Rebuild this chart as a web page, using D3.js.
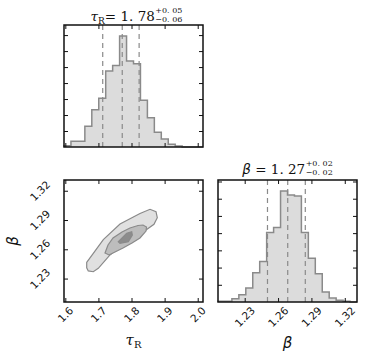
<!DOCTYPE html>
<html>
<head>
<meta charset="utf-8">
<script src="https://cdn.jsdelivr.net/npm/d3@7"></script>
<style>
body { margin: 0; background: #fff; }
text { fill: #111; }
</style>
</head>
<body>
<svg id="chart" width="365" height="361"></svg>
<script>
"use strict"

// axis ranges of the two parameters
const tauDomain = [1.596, 2.016]
const betaDomain = [1.206, 1.331]

// 20-bin histograms spanning the axis ranges
const tauCounts = [4, 17, 17, 62, 112, 146, 228, 245, 333, 258, 250, 140, 88, 44, 24, 8, 3, 0, 0, 0]
const betaCounts = [2, 2, 10, 22, 42, 88, 122, 210, 225, 335, 323, 320, 210, 132, 85, 30, 12, 5, 2, 0]

// 16 / 50 / 84 percent quantiles
const tauQuantiles = [1.713, 1.772, 1.823]
const betaQuantiles = [1.2505, 1.2687, 1.2845]

const tauTicks = [1.6, 1.7, 1.8, 1.9, 2.0]
const betaTicks = [1.23, 1.26, 1.29, 1.32]
const tauCountTicks = [48, 96, 144, 192, 240, 288, 336]
const betaCountTicks = [52, 104, 156, 208, 260, 312, 364]

// joint density contours, [tau, beta]
const contourOuter = [[1.6646, 1.2467], [1.6845, 1.2559], [1.7148, 1.2700], [1.7652, 1.2859],
    [1.8256, 1.2967], [1.8559, 1.3010], [1.8740, 1.2985], [1.8779, 1.2924], [1.8679, 1.2856],
    [1.8256, 1.2754], [1.7752, 1.2651], [1.7350, 1.2542], [1.6996, 1.2405], [1.6845, 1.2370],
    [1.6694, 1.2378], [1.6646, 1.2411]]
const contourMiddle = [[1.7199, 1.2562], [1.7290, 1.2644], [1.7441, 1.2716], [1.7713, 1.2777],
    [1.7954, 1.2818], [1.8196, 1.2844], [1.8347, 1.2849], [1.8453, 1.2828], [1.8438, 1.2787],
    [1.8256, 1.2716], [1.8015, 1.2665], [1.7743, 1.2613], [1.7501, 1.2572], [1.7320, 1.2542]]
const contourInner = [[1.7601, 1.2678], [1.7855, 1.2764], [1.8006, 1.2780], [1.8024, 1.2746],
    [1.7903, 1.2678], [1.7652, 1.2661]]

const tauTitle = {value: "1. 78", plus: "+0. 05", minus: "\u22120. 06"}
const betaTitle = {value: "1. 27", plus: "+0. 02", minus: "\u22120. 02"}

const svg = d3.select("#chart")
const panelW = 139
const panelH = 122
const tickLen = 4
const labelFont = "DejaVu Sans, sans-serif"
const mathFont = "DejaVu Serif, serif"

function makePanel(px, py) {
    return svg.append("g").attr("transform", "translate(" + px + "," + py + ")")
}

// inward ticks on all four sides plus the frame
function drawFrame(g, xScale, yScale, xTicks, yTicks) {
    const axes = [
        [d3.axisBottom(xScale), xTicks, "translate(0," + panelH + ")"],
        [d3.axisTop(xScale), xTicks, "translate(0,0)"],
        [d3.axisLeft(yScale), yTicks, "translate(0,0)"],
        [d3.axisRight(yScale), yTicks, "translate(" + panelW + ",0)"]
    ]
    axes.forEach(([axis, ticks, tr]) => {
        const a = g.append("g")
            .attr("transform", tr)
            .call(axis.tickValues(ticks).tickSize(-tickLen).tickFormat(""))
        a.select(".domain").remove()
        a.selectAll(".tick line").attr("stroke", "#111").attr("stroke-width", 1)
    })
    g.append("rect")
        .attr("width", panelW)
        .attr("height", panelH)
        .attr("fill", "none")
        .attr("stroke", "#111")
        .attr("stroke-width", 1.5)
}

// rotated tick labels aligned by their rotated bounding box
function xTickLabels(g, xScale, ticks, fmt) {
    ticks.forEach(t => {
        const txt = g.append("text")
            .style("font-family", labelFont)
            .style("font-size", "10.5px")
            .attr("text-anchor", "middle")
            .attr("dominant-baseline", "central")
            .text(fmt(t))
        const w = txt.node().getComputedTextLength()
        const half = (w + 8) / 2 * Math.SQRT1_2
        txt.attr("transform", "translate(" + xScale(t) + "," + (panelH + 3.5 + half) + ") rotate(-45)")
    })
}

function yTickLabels(g, yScale, ticks, fmt) {
    ticks.forEach(t => {
        const txt = g.append("text")
            .style("font-family", labelFont)
            .style("font-size", "10.5px")
            .attr("text-anchor", "middle")
            .attr("dominant-baseline", "central")
            .text(fmt(t))
        const w = txt.node().getComputedTextLength()
        const half = (w + 8) / 2 * Math.SQRT1_2
        txt.attr("transform", "translate(" + (-13 - half) + "," + yScale(t) + ") rotate(-45)")
    })
}

function drawHist(g, counts, domain, quantiles, xTicks, countTicks) {
    const x = d3.scaleLinear().domain(domain).range([0, panelW])
    const y = d3.scaleLinear().domain([0, d3.max(counts) * 1.1]).range([panelH, 0])
    const step = (domain[1] - domain[0]) / counts.length
    const pts = [[domain[0], 0]]
    counts.forEach((c, i) => {
        pts.push([domain[0] + i * step, c])
        pts.push([domain[0] + (i + 1) * step, c])
    })
    pts.push([domain[1], 0])
    const line = d3.line().x(d => x(d[0])).y(d => y(d[1]))
    g.append("path")
        .attr("d", line(pts))
        .attr("fill", "#dcdcdc")
        .attr("stroke", "#8a8a8a")
        .attr("stroke-width", 1.5)
    g.selectAll(".quant")
        .data(quantiles)
        .enter()
        .append("line")
        .attr("class", "quant")
        .attr("x1", d => x(d))
        .attr("x2", d => x(d))
        .attr("y1", 0)
        .attr("y2", panelH)
        .attr("stroke", "#8a8a8a")
        .attr("stroke-width", 1.2)
        .attr("stroke-dasharray", "5,4")
    drawFrame(g, x, y, xTicks, countTicks)
    return x
}

// title in the mathtext style: name = value ^{+a}_{-b}
function mathTitle(cx, baseline, nameParts, t) {
    const g = svg.append("g")
    const main = g.append("text")
        .attr("y", baseline)
        .style("font-family", mathFont)
        .style("font-size", "13.5px")
    nameParts(main)
    main.append("tspan").text(t.value)
    const w = main.node().getComputedTextLength()
    const sup = g.append("text")
        .attr("x", w + 0.5)
        .attr("y", baseline - 8.3)
        .style("font-family", mathFont)
        .style("font-size", "8px")
        .text(t.plus)
    const sub = g.append("text")
        .attr("x", w + 0.5)
        .attr("y", baseline + 1.2)
        .style("font-family", mathFont)
        .style("font-size", "8px")
        .text(t.minus)
    const total = w + 0.5 + Math.max(sup.node().getComputedTextLength(), sub.node().getComputedTextLength())
    g.attr("transform", "translate(" + (cx - total / 2) + ",0)")
}

// top: tau histogram
const gTau = makePanel(64, 25)
drawHist(gTau, tauCounts, tauDomain, tauQuantiles, tauTicks, tauCountTicks)
mathTitle(64 + panelW / 2 + 3, 21, t => {
    t.append("tspan").style("font-style", "italic").text("\u03c4")
    t.append("tspan").attr("dy", 3).style("font-size", "9px").text("R")
    t.append("tspan").attr("dy", -3).text("= ")
}, tauTitle)

// bottom right: beta histogram
const gBeta = makePanel(218, 180)
const xBeta = drawHist(gBeta, betaCounts, betaDomain, betaQuantiles, betaTicks, betaCountTicks)
xTickLabels(gBeta, xBeta, betaTicks, d3.format(".2f"))
mathTitle(218 + panelW / 2, 174, t => {
    t.append("tspan").style("font-style", "italic").style("font-family", labelFont).text("\u03b2")
    t.append("tspan").text(" = ")
}, betaTitle)

// bottom left: joint contours
const gJoint = makePanel(64, 180)
const xJ = d3.scaleLinear().domain(tauDomain).range([0, panelW])
const yJ = d3.scaleLinear().domain(betaDomain).range([panelH, 0])
const contourLine = d3.line().x(d => xJ(d[0])).y(d => yJ(d[1])).curve(d3.curveLinearClosed)
const levels = [
    [contourOuter, "#e0e0e0"],
    [contourMiddle, "#bdbdbd"],
    [contourInner, "#8c8c8c"]
]
levels.forEach(([pts, fill]) => {
    gJoint.append("path")
        .attr("d", contourLine(pts))
        .attr("fill", fill)
        .attr("stroke", "#8a8a8a")
        .attr("stroke-width", 1.2)
})
drawFrame(gJoint, xJ, yJ, tauTicks, betaTicks)
xTickLabels(gJoint, xJ, tauTicks, d3.format(".1f"))
yTickLabels(gJoint, yJ, betaTicks, d3.format(".2f"))

// axis labels
const tauLabel = svg.append("text")
    .attr("x", 64 + panelW / 2)
    .attr("y", 345)
    .attr("text-anchor", "middle")
    .style("font-family", mathFont)
    .style("font-size", "15px")
tauLabel.append("tspan").style("font-style", "italic").text("\u03c4")
tauLabel.append("tspan").attr("dy", 3).style("font-size", "10px").text("R")

svg.append("text")
    .attr("x", 218 + panelW / 2)
    .attr("y", 348)
    .attr("text-anchor", "middle")
    .style("font-family", labelFont)
    .style("font-style", "italic")
    .style("font-size", "15px")
    .text("\u03b2")

svg.append("text")
    .attr("transform", "translate(18," + (180 + panelH / 2) + ") rotate(-90)")
    .attr("text-anchor", "middle")
    .style("font-family", labelFont)
    .style("font-style", "italic")
    .style("font-size", "15px")
    .text("\u03b2")
</script>
</body>
</html>
